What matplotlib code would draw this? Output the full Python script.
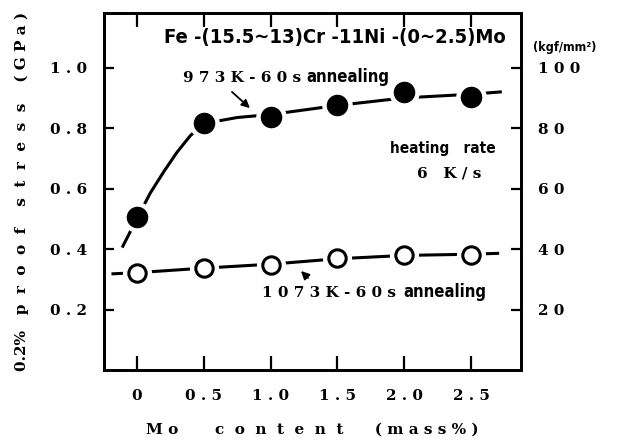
"""
0.2% proof stress vs Mo content for two annealing conditions
"""

import matplotlib.pyplot as plt

mo_content = [0.0, 0.5, 1.0, 1.5, 2.0, 2.5]
stress_973k = [0.506, 0.816, 0.836, 0.876, 0.919, 0.903]
stress_1073k = [0.320, 0.337, 0.347, 0.370, 0.380, 0.380]

# trend lines traced by hand through each series
trend_973k_x = [-0.11, 0.0, 0.1, 0.2, 0.3, 0.4, 0.5, 0.75, 1.0, 1.25, 1.5, 2.0, 2.5, 2.73]
trend_973k_y = [0.405, 0.50, 0.585, 0.655, 0.72, 0.775, 0.815, 0.835, 0.845, 0.86, 0.875, 0.90, 0.912, 0.92]
trend_1073k_x = [-0.19, 0.0, 0.5, 1.0, 1.5, 2.0, 2.5, 2.71]
trend_1073k_y = [0.318, 0.322, 0.337, 0.350, 0.368, 0.379, 0.383, 0.386]

x_ticks = [0.0, 0.5, 1.0, 1.5, 2.0, 2.5]
x_tick_labels = ["0", "0 . 5", "1 . 0", "1 . 5", "2 . 0", "2 . 5"]
y_ticks = [0.2, 0.4, 0.6, 0.8, 1.0]
y_tick_labels = ["0 . 2", "0 . 4", "0 . 6", "0 . 8", "1 . 0"]
kgf_ticks = [20, 40, 60, 80, 100]
kgf_tick_labels = ["2 0", "4 0", "6 0", "8 0", "1 0 0"]

serif = dict(fontfamily="DejaVu Serif", fontweight="bold", fontsize=11)
narrow = dict(fontfamily="DejaVu Sans", fontstretch="condensed", fontweight="bold")

fig = plt.figure(figsize=(6.37, 4.40), dpi=100)
ax = fig.add_axes([0.163, 0.159, 0.655, 0.811])

# trend lines, broken by white halos around each marker
ax.plot(trend_973k_x, trend_973k_y, color="black", lw=2.2, solid_capstyle="butt", zorder=2)
ax.plot(trend_1073k_x, trend_1073k_y, color="black", lw=2.2, solid_capstyle="butt", zorder=2)
ax.plot(mo_content, stress_973k, "o", ms=21, color="white", zorder=3)
ax.plot(mo_content, stress_1073k, "o", ms=20, color="white", zorder=3)
ax.plot(mo_content, stress_973k, "o", ms=14.5, color="black", zorder=4)
ax.plot(mo_content, stress_1073k, "o", ms=12.5, mfc="white", mec="black", mew=2.2, zorder=4)

ax.set_xlim(-0.247, 2.874)
ax.set_ylim(0, 1.18)
ax.set_xticks(x_ticks)
ax.set_xticklabels(x_tick_labels, **serif)
ax.set_yticks(y_ticks)
ax.set_yticklabels(y_tick_labels, **serif)
ax.tick_params(direction="in", width=1.6, length=7, top=True, pad=12)
ax.tick_params(axis="x", length=10, pad=14)
for spine in ax.spines.values():
    spine.set_linewidth(2)

# right axis in kgf/mm^2
ax2 = ax.twinx()
ax2.set_ylim(0, 118)
ax2.set_yticks(kgf_ticks)
ax2.set_yticklabels(kgf_tick_labels, **serif)
ax2.tick_params(direction="in", width=1.6, length=7, pad=12)
for spine in ax2.spines.values():
    spine.set_linewidth(2)

ax.set_ylabel("0.2%   p  r  o  o  f    s  t  r  e  s  s    ( G P a )", labelpad=15, **serif)
ax.set_xlabel("M o       c  o  n  t  e  n  t      ( m a s s % )", labelpad=14, **serif)

fig.text(0.836, 0.893, "(kgf/mm²)", fontsize=9, va="center", **narrow)

ax.text(1.48, 1.10, "Fe -(15.5∼13)Cr -11Ni -(0∼2.5)Mo", fontsize=14.5,
        ha="center", va="center", **narrow)

# 973 K label and arrow
ax.text(0.344, 0.965, "9 7 3 K - 6 0 s", va="center", **serif)
ax.text(1.27, 0.968, "annealing", fontsize=12, va="center", **narrow)
ax.annotate("", xy=(0.861, 0.860), xytext=(0.696, 0.926),
            arrowprops=dict(arrowstyle="-|>", color="black", lw=1.3, mutation_scale=12))

ax.text(1.894, 0.734, "heating   rate", fontsize=11, va="center", **narrow)
ax.text(2.096, 0.651, "6   K / s", va="center", **serif)

# 1073 K label and arrow
ax.text(0.936, 0.255, "1 0 7 3 K - 6 0 s", va="center", **serif)
ax.text(1.99, 0.258, "annealing", fontsize=12, va="center", **narrow)
ax.annotate("", xy=(1.213, 0.334), xytext=(1.295, 0.298),
            arrowprops=dict(arrowstyle="-|>", color="black", lw=1.3, mutation_scale=12))

fig.savefig("out.png", dpi=100)
